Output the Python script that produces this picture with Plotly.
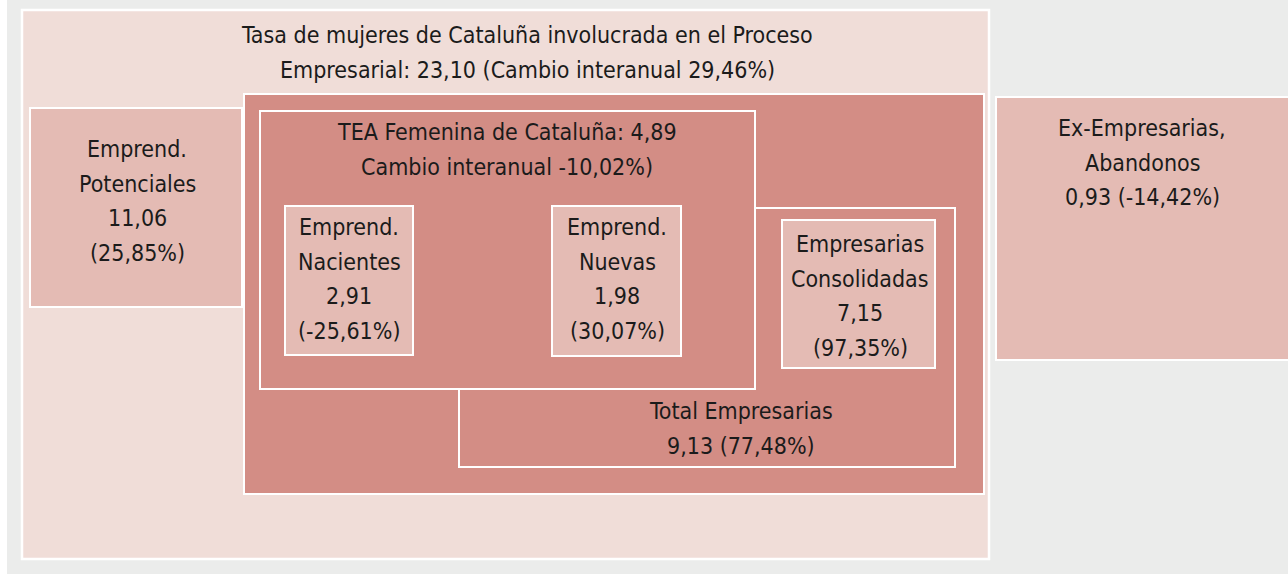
import plotly.graph_objects as go

# ---- data ----
box_labels = [
    "Tasa de mujeres de Cataluña involucrada en el Proceso<br>Empresarial",
    "Emprend.<br>Potenciales",
    "TEA Femenina de Cataluña",
    "Emprend.<br>Nacientes",
    "Emprend.<br>Nuevas",
    "Total Empresarias",
    "Empresarias<br>Consolidadas",
    "Ex-Empresarias,<br>Abandonos",
]
box_values = [23.10, 11.06, 4.89, 2.91, 1.98, 9.13, 7.15, 0.93]
box_changes = [29.46, 25.85, -10.02, -25.61, 30.07, 77.48, 97.35, -14.42]


def es(v):
    return f"{v:.2f}".replace(".", ",")


texts = [
    f"{box_labels[0]}: {es(box_values[0])} (Cambio interanual {es(box_changes[0])}%)",
    f"{box_labels[1]}<br>{es(box_values[1])}<br>({es(box_changes[1])}%)",
    f"{box_labels[2]}: {es(box_values[2])}<br>Cambio interanual {es(box_changes[2])}%)",
    f"{box_labels[3]}<br>{es(box_values[3])}<br>({es(box_changes[3])}%)",
    f"{box_labels[4]}<br>{es(box_values[4])}<br>({es(box_changes[4])}%)",
    f"{box_labels[5]}<br>{es(box_values[5])} ({es(box_changes[5])}%)",
    f"{box_labels[6]}<br>{es(box_values[6])}<br>({es(box_changes[6])}%)",
    f"{box_labels[7]}<br>{es(box_values[7])} ({es(box_changes[7])}%)",
]

# ---- layout geometry (pixels, y downward) ----
W, H = 1288, 574
BG = "#EBECEB"
C_OUT = "#F0DDD8"
C_LIGHT = "#E4BBB4"
C_DARK = "#D38D85"

# rectangles in drawing order: x0, y0, x1, y1, fill, border width
rects = [
    (22, 10, 989, 559, C_OUT, 2.5),        # outer
    (30, 108, 242, 307, C_LIGHT, 2),        # potenciales
    (996, 97, 1292, 360, C_LIGHT, 2),       # ex-empresarias
    (244, 94, 984, 494, C_DARK, 2),         # dark container
    (459, 208, 955, 467, C_DARK, 2),        # total empresarias
    (782, 220, 935, 368, C_LIGHT, 2),       # consolidadas
    (260, 111, 755, 389, C_DARK, 2),        # TEA
    (285, 206, 413, 355, C_LIGHT, 2),       # nacientes
    (552, 206, 681, 356, C_LIGHT, 2),       # nuevas
]
# text: center x and the centre y of the first line, per box text
text_pos = [
    (527, 35),
    (137, 149),
    (507, 132),
    (349, 227),
    (617, 227),
    (741, 411),
    (860, 244),
    (1142, 128),
]
LINE_STEP = 34.5

FONT = "DejaVu Sans Condensed, sans-serif"
FS = 23

fig = go.Figure()
shapes = [dict(type="rect", x0=7, y0=-5, x1=W + 5, y1=H + 5, fillcolor=BG,
               line=dict(width=0), layer="below")]
for x0, y0, x1, y1, fill, lw in rects:
    shapes.append(dict(type="rect", x0=x0, y0=y0, x1=x1, y1=y1, fillcolor=fill,
                       line=dict(color="white", width=lw), layer="below"))

annotations = []
for (cx, cy), t in zip(text_pos, texts):
    for i, line in enumerate(t.split("<br>")):
        annotations.append(dict(x=cx, y=cy + i * LINE_STEP, text=line, showarrow=False,
                                xanchor="center", yanchor="middle", align="center",
                                font=dict(family=FONT, size=FS, color="#1b1b1b")))

fig.add_trace(go.Scatter(x=[0, W], y=[0, H], mode="markers",
                         marker=dict(opacity=0), hoverinfo="skip", showlegend=False))

fig.update_layout(
    width=W, height=H,
    margin=dict(l=0, r=0, t=0, b=0),
    paper_bgcolor="white", plot_bgcolor="white",
    xaxis=dict(range=[0, W], visible=False, fixedrange=True),
    yaxis=dict(range=[H, 0], visible=False, fixedrange=True),
    shapes=shapes, annotations=annotations,
    showlegend=False,
)

fig.write_html("out.html", post_script="document.body.style.margin='0';",
               config={"displayModeBar": False})
